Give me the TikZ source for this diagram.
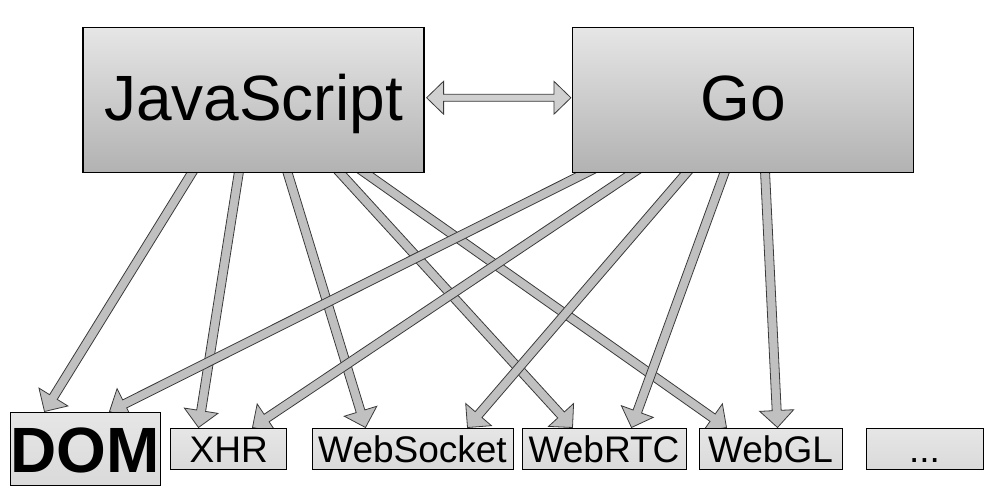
\documentclass[tikz,border=0pt]{standalone}
\usepackage{fontspec}
\setmainfont{Liberation Sans}
\usetikzlibrary{calc}
\pgfdeclarelayer{background}
\pgfsetlayers{background,main}
\definecolor{arrowfill}{HTML}{C0C0C0}
\definecolor{arrowline}{HTML}{3A3A3A}
\definecolor{bigtop}{HTML}{E6E6E6}
\definecolor{bigbot}{HTML}{B2B2B2}
\definecolor{smalltop}{HTML}{E6E6E6}
\definecolor{smallbot}{HTML}{DADADA}
\tikzset{
  bigbox/.style={draw=black, line width=1.2pt, top color=bigtop, bottom color=bigbot,
    minimum width=341pt, minimum height=145pt, inner sep=0pt,
    font=\fontsize{64}{64}\selectfont, text height=48pt, text depth=7.5pt},
  smallbox/.style={draw=black, line width=1pt, top color=smalltop, bottom color=smallbot,
    minimum height=41pt, inner sep=0pt,
    font=\fontsize{37}{37}\selectfont, text height=27pt, text depth=0pt},
  dombox/.style={smallbox, minimum height=73pt, minimum width=150pt,
    font=\fontsize{64}{64}\selectfont\bfseries, text height=48pt, text depth=1pt},
  blockarrow/.style={draw=arrowline, fill=arrowfill, line width=0.8pt, line join=miter},
}
\newcommand\blockarr[2]{%
  \coordinate (ba-b) at ($(#2)!17pt!(#1)$);
  \draw[blockarrow] ($(#1)!4.5pt!90:(#2)$) -- ($(ba-b)!4.5pt!90:(#2)$)
    -- ($(ba-b)!17pt!90:(#2)$) -- (#2) -- ($(ba-b)!17pt!-90:(#2)$)
    -- ($(ba-b)!4.5pt!-90:(#2)$) -- ($(#1)!4.5pt!-90:(#2)$) -- cycle;
}
\begin{document}
\begin{tikzpicture}[x=1pt,y=-1pt]
\useasboundingbox (0,0) rectangle (997,493);
% boxes
\node[bigbox] (js) at (253.5,99.75) {JavaScript};
\node[bigbox] (go) at (743,99.75) {Go};
\node[dombox] (dom) at (85,448.5) {DOM};
\node[smallbox, minimum width=116pt] (xhr) at (228.7,448.5) {XHR};
\node[smallbox, minimum width=201pt] (ws) at (412.5,448.5) {WebSocket};
\node[smallbox, minimum width=164pt] (rtc) at (604,448.5) {WebRTC};
\node[smallbox, minimum width=143pt] (gl) at (770.5,448.5) {WebGL};
\node[smallbox, minimum width=117pt] (more) at (924.5,448.5) {...};
% start points
\coordinate (j1) at ([xshift=112pt,yshift=4pt]js.south west);
\coordinate (j2) at ([xshift=157pt,yshift=4pt]js.south west);
\coordinate (j3) at ([xshift=204pt,yshift=4pt]js.south west);
\coordinate (j4) at ([xshift=254pt,yshift=4pt]js.south west);
\coordinate (j5) at ([xshift=277pt,yshift=4pt]js.south west);
\coordinate (g1) at ([xshift=22pt,yshift=4pt]go.south west);
\coordinate (g2) at ([xshift=67pt,yshift=4pt]go.south west);
\coordinate (g3) at ([xshift=118pt,yshift=4pt]go.south west);
\coordinate (g4) at ([xshift=154pt,yshift=4pt]go.south west);
\coordinate (g5) at ([xshift=193pt,yshift=4pt]go.south west);
% end points
\coordinate (d1) at ([xshift=35pt]dom.north west);
\coordinate (d2) at ([xshift=100pt]dom.north west);
\coordinate (x1) at ([xshift=28.3pt]xhr.north west);
\coordinate (x2) at ([xshift=82.3pt]xhr.north west);
\coordinate (w1) at ([xshift=54pt]ws.north west);
\coordinate (w2) at ([xshift=156pt]ws.north west);
\coordinate (r1) at ([xshift=51pt]rtc.north west);
\coordinate (r2) at ([xshift=110pt]rtc.north west);
\coordinate (l1) at ([xshift=28pt]gl.north west);
\coordinate (l2) at ([xshift=79pt]gl.north west);
% arrows behind the boxes
\begin{pgfonlayer}{background}
\blockarr{j1}{d1}
\blockarr{j2}{x1}
\blockarr{j3}{w1}
\blockarr{j4}{r1}
\blockarr{j5}{l1}
\blockarr{g1}{d2}
\blockarr{g2}{x2}
\blockarr{g3}{w2}
\blockarr{g4}{r2}
\blockarr{g5}{l2}
\end{pgfonlayer}
% double arrow between JavaScript and Go
\coordinate (da) at ([xshift=2pt,yshift=2pt]js.east);
\coordinate (db) at ([xshift=-1pt,yshift=2pt]go.west);
\coordinate (da-b) at ($(da)!17pt!(db)$);
\coordinate (db-b) at ($(db)!17pt!(da)$);
\draw[blockarrow, fill=arrowfill!75!white] (da) -- ($(da-b)!16.5pt!90:(db)$) -- ($(da-b)!3.5pt!90:(db)$)
  -- ($(db-b)!3.5pt!90:(db)$) -- ($(db-b)!16.5pt!90:(db)$) -- (db)
  -- ($(db-b)!16.5pt!-90:(db)$) -- ($(db-b)!3.5pt!-90:(db)$)
  -- ($(da-b)!3.5pt!-90:(db)$) -- ($(da-b)!16.5pt!-90:(db)$) -- cycle;
\end{tikzpicture}
\end{document}
